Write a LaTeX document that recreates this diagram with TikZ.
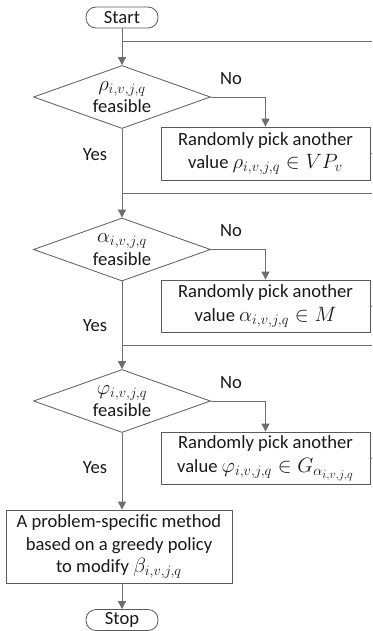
\documentclass[tikz,border=0pt]{standalone}
\usepackage{fontspec}
\setmainfont{Carlito}
\DeclareMathSizes{18.6}{20.5}{15}{12}
\usetikzlibrary{shapes.geometric,arrows.meta}
\definecolor{linec}{RGB}{110,110,110}
\definecolor{boxc}{RGB}{90,90,90}
\begin{document}
\begin{tikzpicture}[x=1pt,y=-1pt,
  every node/.style={font=\fontsize{18.6}{22.5}\selectfont, text=black!90},
  term/.style={draw=boxc, line width=0.8pt, rectangle, rounded corners=10pt, minimum width=72pt, minimum height=21pt, inner sep=0pt},
  dec/.style={draw=boxc, line width=0.8pt, diamond, aspect=2.8, minimum width=177pt, minimum height=63pt, inner sep=0pt, align=center},
  proc/.style={draw=boxc, line width=0.8pt, rectangle, align=center, inner sep=0pt},
  conn/.style={draw=linec, line width=0.9pt},
  arr/.style={conn, -{Triangle[width=8pt,length=8pt]}},
  lbl/.style={inner sep=0pt}
]
\useasboundingbox (0,0) rectangle (372,631);
% nodes
\node[term] (start) at (122,17.5) {Start};
\node[dec] (d1) at (122,97) {$\rho_{i,v,j,q}$\\[0pt]feasible};
\node[proc, minimum width=209pt, minimum height=53pt] (b1) at (265.5,153.5) {Randomly pick another\\[1pt]value $\rho_{i,v,j,q}\in VP_v$};
\node[dec] (d2) at (122,249.5) {$\alpha_{i,v,j,q}$\\[0pt]feasible};
\node[proc, minimum width=209pt, minimum height=52pt] (b2) at (265.5,306) {Randomly pick another\\[1pt]value $\alpha_{i,v,j,q}\in M$};
\node[dec] (d3) at (122,401) {$\varphi_{i,v,j,q}$\\[0pt]feasible};
\node[proc, minimum width=209pt, minimum height=52pt] (b3) at (265.5,458) {Randomly pick another\\[1pt]value $\varphi_{i,v,j,q}\in G_{\alpha_{i,v,j,q}}$};
\node[proc, minimum width=226pt, minimum height=73pt] (b4) at (119,546.5) {A problem-specific method\\based on a greedy policy\\to modify $\beta_{i,v,j,q}$};
\node[term] (stop) at (122,620) {Stop};
% junction coordinates
\coordinate (j1) at (122,41);
\coordinate (j2) at (122,193);
\coordinate (j3) at (122,345);
\coordinate (edge) at (372,0);
% labels
\node[lbl] (no1) at (231,79) {No};
\node[lbl] (no2) at (231,231) {No};
\node[lbl] (no3) at (231,383) {No};
\node[lbl] (yes1) at (95,155) {Yes};
\node[lbl] (yes2) at (95,326) {Yes};
\node[lbl] (yes3) at (95,468) {Yes};
% connectors
\draw[arr] (start) -- (d1);
\draw[arr] (d1) -- (d2);
\draw[arr] (d2) -- (d3);
\draw[arr] (d3.south) -- (d3.south |- b4.north);
\draw[arr] (b4.south -| stop) -- (stop);
\draw[arr] (d1.east) -| (b1.north);
\draw[arr] (d2.east) -| (b2.north);
\draw[arr] (d3.east) -| (b3.north);
\draw[conn] (j1) -- (j1 -| edge);
\draw[conn] (j2) -- (j2 -| edge);
\draw[conn] (j3) -- (j3 -| edge);
\draw[conn] (b1.east) -- (b1.east -| edge);
\draw[conn] (b2.east) -- (b2.east -| edge);
\draw[conn] (b3.east) -- (b3.east -| edge);
\end{tikzpicture}
\end{document}
